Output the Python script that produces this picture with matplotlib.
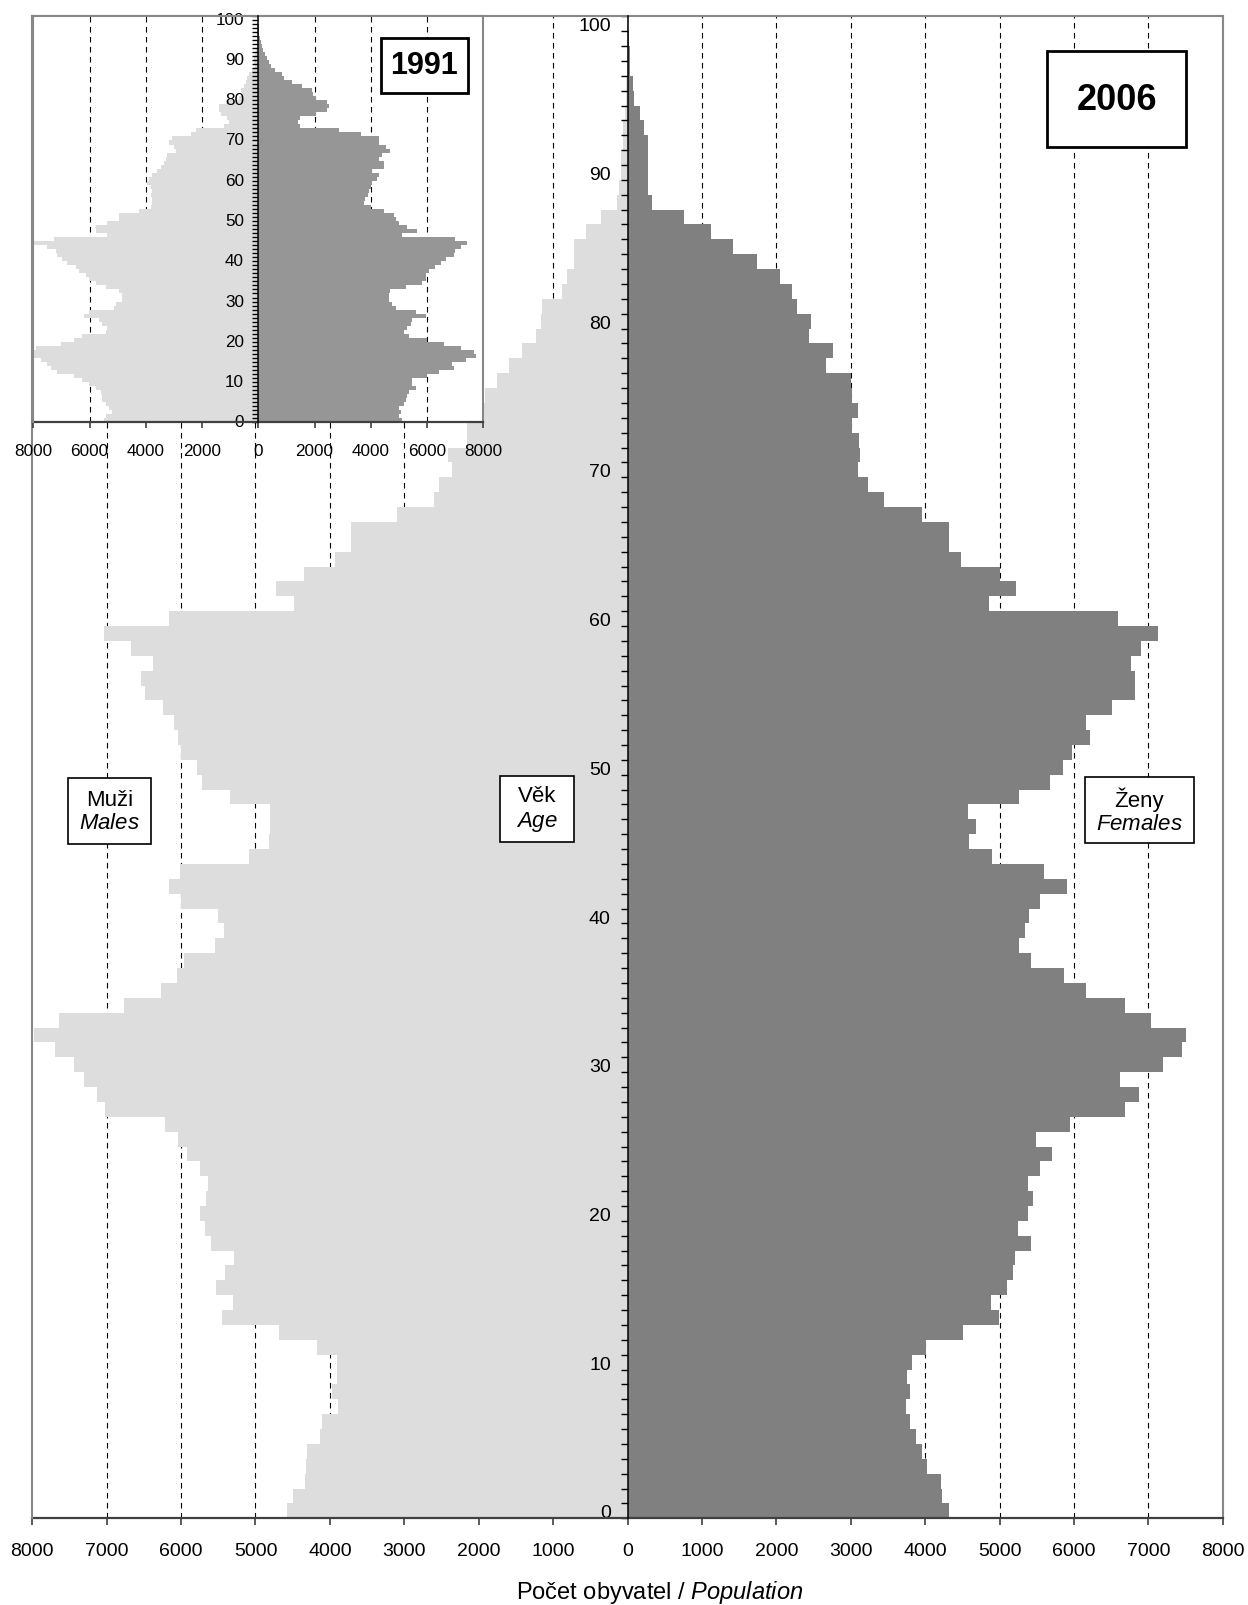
import numpy as np
import matplotlib.pyplot as plt
from matplotlib.patches import Rectangle
from matplotlib.ticker import FuncFormatter

plt.rcParams['font.family'] = ['Liberation Sans', 'DejaVu Sans']
plt.rcParams['mathtext.fontset'] = 'custom'
plt.rcParams['mathtext.rm'] = 'Liberation Sans'
plt.rcParams['mathtext.it'] = 'Liberation Sans:italic'

# věk 0..100
ages = np.arange(0, 101)

# 2006
males_2006 = [4575, 4495, 4335, 4315, 4303, 4128, 4102, 3886, 3968, 3911,
              3911, 4179, 4678, 5445, 5296, 5528, 5404, 5286, 5594, 5677,
              5744, 5661, 5636, 5744, 5919, 6037, 6212, 7020, 7128, 7303,
              7437, 7694, 7983, 7638, 6763, 6269, 6052, 5960, 5538, 5419,
              5502, 6001, 6166, 6011, 5090, 4812, 4802, 4802, 5337, 5713,
              5780, 6001, 6037, 6094, 6238, 6480, 6536, 6372, 6670, 7030,
              6166, 4478, 4725, 4344, 3927, 3711, 3711, 3093, 2604, 2537,
              2355, 2408, 2153, 2153, 2000, 1920, 1750, 1589, 1414, 1234,
              1160, 1150, 880, 810, 714, 714, 560, 350, 143, 112,
              81, 81, 63, 63, 35, 25, 15, 10, 5, 3,
              2]
females_2006 = [4318, 4232, 4210, 4025, 3961, 3881, 3801, 3737, 3801, 3759,
                3822, 4014, 4503, 4987, 4880, 5104, 5183, 5215, 5428, 5252,
                5380, 5455, 5385, 5550, 5710, 5497, 5954, 6683, 6879, 6619,
                7204, 7459, 7512, 7039, 6683, 6157, 5869, 5428, 5268, 5348,
                5401, 5550, 5901, 5603, 4902, 4593, 4689, 4572, 5268, 5683,
                5859, 5970, 6215, 6162, 6518, 6815, 6815, 6762, 6900, 7129,
                6587, 4854, 5226, 5013, 4487, 4317, 4327, 3955, 3450, 3227,
                3099, 3131, 3115, 3020, 3099, 3020, 2998, 2674, 2764, 2446,
                2472, 2281, 2217, 2052, 1738, 1420, 1127, 760, 330, 275,
                275, 275, 275, 224, 170, 90, 72, 36, 27, 18,
                5]

# 1991
males_1991 = [5486, 5427, 5190, 5308, 5427, 5545, 5545, 5604, 5782, 6019,
              6256, 6552, 7145, 7381, 7500, 7737, 8090, 8100, 7915, 7026,
              6552, 6256, 5427, 5367, 5545, 5663, 6197, 6019, 5130, 5071,
              4834, 4834, 4953, 5427, 5782, 6019, 6137, 6374, 6493, 6789,
              6967, 7145, 7204, 7500, 8030, 7263, 5367, 5782, 5782, 5367,
              4953, 4953, 4242, 3827, 3768, 3768, 3800, 3768, 3827, 3945,
              3886, 3768, 3590, 3472, 3353, 3294, 3235, 2938, 2998, 3175,
              3057, 2405, 2227, 1220, 1043, 1102, 1339, 1398, 1398, 1161,
              687, 570, 628, 509, 450, 390, 332, 213, 130, 170,
              154, 120, 90, 60, 40, 25, 15, 10, 5, 0,
              0]
females_1991 = [5120, 5000, 5060, 5000, 5180, 5240, 5300, 5350, 5590, 5470,
                5470, 6010, 6420, 6950, 6900, 7370, 7730, 7670, 7190, 6600,
                6010, 5350, 5180, 5300, 5420, 5470, 5950, 5590, 4880, 4760,
                4650, 4650, 4700, 5240, 5830, 5950, 5950, 6070, 6300, 6480,
                6660, 6950, 7010, 7190, 7430, 7010, 5120, 5650, 5300, 5000,
                4880, 4820, 4470, 3990, 3760, 3790, 3910, 3950, 3990, 4050,
                4230, 4290, 4050, 4470, 4470, 4300, 4410, 4700, 4530, 4290,
                4290, 3640, 2870, 1500, 1420, 1500, 2050, 2450, 2500, 2450,
                2050, 1950, 1900, 1550, 1200, 900, 850, 600, 460, 390,
                320, 240, 180, 120, 80, 50, 30, 20, 10, 5,
                0]

W, H = 1248, 1606
FRAME = '#888888'


def fx(px):
    return px / W


def fy(py):
    return 1 - py / H


def pyramid(ax, males, females, c_m, c_f, xmax, step, fs, tlen, ypad, xpad):
    ax.barh(ages, -np.array(males), height=1.0, color=c_m, linewidth=0, zorder=1)
    ax.barh(ages, females, height=1.0, color=c_f, linewidth=0, zorder=1)
    ax.set_xlim(-xmax, xmax)
    ax.set_ylim(-0.5, 100.5)
    ticks = np.arange(-xmax, xmax + 1, step)
    ax.set_xticks(ticks)
    ax.xaxis.set_major_formatter(FuncFormatter(lambda v, p: f'{abs(int(v))}'))
    # mřížka pod sloupci
    for v in ticks:
        if abs(v) not in (0, xmax):
            ax.axvline(v, color='black', linestyle=(0, (5, 4)), linewidth=0.8,
                       zorder=0.5)
    ax.tick_params(axis='x', direction='out', length=tlen, width=1.2,
                   color='#404040', labelsize=fs, pad=xpad)
    # osa věku uprostřed
    ax.spines['left'].set_position(('data', 0))
    ax.spines['left'].set_color('black')
    ax.spines['left'].set_linewidth(1.1)
    ax.spines['left'].set_zorder(4)
    ax.set_yticks(np.arange(0, 101, 10))
    ax.set_yticks(np.arange(-0.5, 101, 1), minor=True)
    ax.tick_params(axis='y', which='major', length=0, labelsize=fs, pad=ypad)
    ax.tick_params(axis='y', which='minor', length=tlen, width=1.0,
                   direction='out', color='black')
    for s in ['top', 'right']:
        ax.spines[s].set_color(FRAME)
        ax.spines[s].set_linewidth(1.5)
    ax.spines['bottom'].set_color('#404040')
    ax.spines['bottom'].set_linewidth(1.6)
    ax.plot([-xmax, -xmax], [-0.5, 100.5], color=FRAME, lw=1.5,
            clip_on=False, zorder=5)


fig = plt.figure(figsize=(W / 100, H / 100), dpi=100)

ax = fig.add_axes([fx(32.3), fy(1519.3), (1222.7 - 32.3) / W, (1519.3 - 17.3) / H])
pyramid(ax, males_2006, females_2006, '#dddddd', '#808080', 8000, 1000,
        14, 4.8, 12, 12)

ax_in = fig.add_axes([fx(33.3), fy(423.3), 450 / W, (423.3 - 16.7) / H])
ax_in.set_zorder(5)
ax_in.set_facecolor('white')
pyramid(ax_in, males_1991, females_1991, '#dddddd', '#969696', 8000, 2000,
        12.3, 4.3, 10.3, 10.5)

fig.text(fx(660), fy(1593), 'Počet obyvatel / $\\it{Population}$',
         ha='center', va='center', fontsize=17)


def box(x0, y0, x1, y1, text, fs, lw, bold=False):
    fig.add_artist(Rectangle((fx(x0), fy(y1)), (x1 - x0) / W, (y1 - y0) / H,
                             transform=fig.transFigure, facecolor='white',
                             edgecolor='black', linewidth=lw, zorder=10))
    fig.text(fx((x0 + x1) / 2), fy((y0 + y1) / 2), text, ha='center',
             va='center', fontsize=fs, fontweight='bold' if bold else 'normal',
             linespacing=1.15, zorder=11)


box(381, 39, 468, 94, '1991', 22, 2.0, bold=True)
box(1047, 52, 1186, 148, '2006', 26, 2.0, bold=True)
box(68, 779, 151, 845, 'Muži\n$\\it{Males}$', 16, 1.2)
box(500, 777, 574, 843, 'Věk\n$\\it{Age}$', 16, 1.2)
box(1085, 778, 1194, 844, 'Ženy\n$\\it{Females}$', 16, 1.2)

fig.savefig('out.png', dpi=100)
